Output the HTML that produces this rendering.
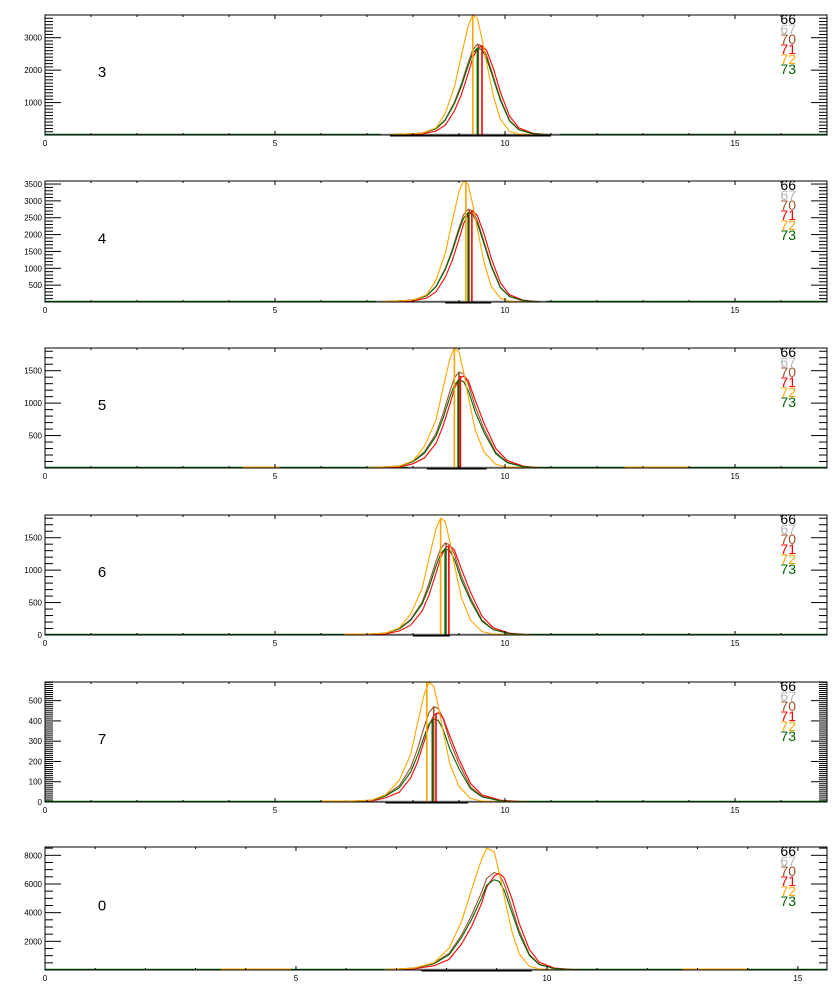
<!DOCTYPE html>
<html><head><meta charset="utf-8"><style>
body{margin:0;background:#fff}
svg{display:block}
text{font-family:"Liberation Sans",sans-serif}
</style></head><body>
<svg id="chart" width="840" height="1000" viewBox="0 0 840 1000" xmlns="http://www.w3.org/2000/svg"></svg>
<script>
// ---- data ----
const panelLabels = ["3","4","5","6","7","0"];
const legendLabels = ["66","67","70","71","72","73"];
const legendColors = ["#000000","#b4b4b4","#a0522d","#ff0000","#ffa500","#006400"];
const xMaxes = [17,17,17,17,17,15.58];
const yMaxes = [3700,3590,1850,1850,592,8580];
const yMajor = [1000,500,500,500,100,2000];
const yMinor = [100,100,100,100,10,500];
const yLabel0 = [false,false,false,true,true,false];

const xs1 = [7.5,8.2,8.5,8.7,8.9,9.05,9.2,9.3,9.4,9.5,9.6,9.75,9.9,10.1,10.3,10.6,11.0];
const xs2 = [7.3,8.0,8.3,8.5,8.7,8.85,9.0,9.1,9.2,9.3,9.4,9.55,9.7,9.9,10.1,10.4,10.8];
const xs3 = [7.0,7.7,8.0,8.25,8.5,8.65,8.8,8.9,9.0,9.1,9.2,9.35,9.55,9.8,10.05,10.4,10.8];
const xs4 = [6.7,7.4,7.7,7.95,8.2,8.35,8.5,8.6,8.7,8.8,8.9,9.05,9.25,9.5,9.75,10.1,10.6];
const xs5 = [6.3,7.1,7.4,7.7,7.95,8.1,8.25,8.35,8.45,8.55,8.65,8.8,9.0,9.25,9.5,9.9,10.5];
const xs6 = [6.75,7.35,7.75,8.05,8.3,8.5,8.7,8.8,8.95,9.05,9.15,9.3,9.45,9.65,9.85,10.15,10.65];

const orange1 = [7,55,220,670,1480,2440,3370,3700,3590,2960,2220,1180,480,110,30,7,0];
const brown1  = [6,56,196,476,1010,1570,2240,2630,2800,2740,2460,1790,1120,450,170,40,0];
const red1    = [3,33,124,300,740,1240,1900,2370,2670,2750,2610,2040,1320,580,220,55,0];
const green1  = [5,54,188,456,965,1500,2140,2520,2680,2630,2360,1720,1070,430,160,40,0];

const orange2 = [7,54,216,650,1440,2380,3280,3600,3490,2880,2160,1150,470,110,30,7,0];
const brown2  = [6,55,190,470,990,1540,2200,2590,2750,2700,2420,1760,1100,440,165,40,0];
const red2    = [3,32,120,300,730,1220,1860,2320,2620,2700,2560,2000,1300,570,215,54,0];
const green2  = [5,53,185,450,955,1480,2120,2490,2650,2600,2330,1700,1060,420,160,40,0];

const orange3 = [4,28,111,333,740,1220,1680,1850,1790,1480,1110,590,240,55,15,4,0];
const brown3  = [3,30,104,250,530,830,1180,1390,1480,1450,1300,950,590,240,90,22,0];
const red3    = [1,17,64,156,380,640,980,1220,1380,1420,1350,1050,680,300,114,28,0];
const green3  = [3,27,95,230,490,760,1090,1280,1360,1330,1200,870,540,220,82,20,0];

const orange4 = [4,27,108,324,720,1190,1640,1800,1750,1440,1080,580,230,54,14,4,0];
const brown4  = [3,28,100,240,510,800,1140,1330,1420,1390,1250,910,570,230,85,21,0];
const red4    = [1,17,62,152,370,620,950,1190,1340,1380,1310,1020,660,290,110,28,0];
const green4  = [3,27,93,226,480,740,1060,1250,1330,1300,1170,850,530,210,80,20,0];

const orange5 = [1,9,35,106,236,390,537,590,572,472,354,189,77,18,5,1,0];
const brown5  = [1,9,33,80,169,263,376,442,470,461,414,301,188,75,28,7,0];
const red5    = [0,5,20,48,119,198,304,378,427,440,418,326,211,92,35,9,0];
const green5  = [1,8,29,70,148,230,328,385,410,402,361,262,164,66,25,6,0];

const orange6 = [17,130,510,1530,3400,5610,7740,8500,8250,6800,5100,2720,1110,260,70,17,0];
const brown6  = [14,136,480,1160,2450,3810,5440,6390,6800,6660,5980,4350,2720,1090,410,100,0];
const red6    = [7,81,300,740,1820,3040,4660,5800,6550,6750,6410,5000,3240,1420,540,135,0];
const green6  = [13,126,440,1070,2270,3530,5040,5920,6300,6170,5540,4030,2520,1010,380,95,0];

// mean markers: [brown, red, orange, green]
const markers1 = [9.42,9.5,9.3,9.4];
const markers2 = [9.22,9.28,9.15,9.2];
const markers3 = [9.0,9.03,8.9,8.98];
const markers4 = [8.72,8.78,8.6,8.7];
const markers5 = [8.45,8.5,8.3,8.42];
const markers6 = [];
// baseline segments of series 66 (black) and 67 (gray)
const black66 = [[7.5,11.0],[8.7,9.7],[8.3,9.6],[8.0,8.8],[7.4,9.2],[7.5,9.7]];
const gray67 = [[7.3,11.2],[7.2,10.9],[7.9,10.1],[7.0,10.5],[6.9,9.8],[7.0,10.3]];
const orangeTails = [[],[],[[4.3,5.1],[12.6,14.0]],[[6.5,7.0]],[[6.0,6.5]],[[3.5,4.9],[12.7,14.0]]];

const xsAll = [xs1,xs2,xs3,xs4,xs5,xs6];
const orangeAll = [orange1,orange2,orange3,orange4,orange5,orange6];
const brownAll = [brown1,brown2,brown3,brown4,brown5,brown6];
const redAll = [red1,red2,red3,red4,red5,red6];
const greenAll = [green1,green2,green3,green4,green5,green6];
const markersAll = [markers1,markers2,markers3,markers4,markers5,markers6];

// ---- drawing ----
const svg = document.getElementById('chart');
const NS = "http://www.w3.org/2000/svg";
function mk(tag, attrs, parent){
  const e = document.createElementNS(NS, tag);
  for (const k in attrs) e.setAttribute(k, attrs[k]);
  (parent||svg).appendChild(e);
  return e;
}
const L = 45, R = 827;
const tops = [15,181,348,515,682,847];
const bots = [135,302,468,635,802,970];

for (let p=0;p<6;p++){
  const g = mk('g',{});
  
  
  const T=tops[p], B=bots[p], xm=xMaxes[p], ym=yMaxes[p];
  const sx = v => L + v/xm*(R-L);
  const sy = v => B - v/ym*(B-T);
  const xs = xsAll[p];
  const sers = [[brownAll[p],legendColors[2],'series-70'],[redAll[p],legendColors[3],'series-71'],[greenAll[p],legendColors[5],'series-73'],[orangeAll[p],legendColors[4],'series-72']];
  const gl = mk('line',{x1:L,y1:B-0.5,x2:R,y2:B-0.5,stroke:legendColors[5],'stroke-width':1.5},g);
  
  
  const gr = mk('line',{x1:sx(gray67[p][0]),y1:B-0.5,x2:sx(gray67[p][1]),y2:B-0.5,stroke:legendColors[1],'stroke-width':2},g);
  
  
  const bl = mk('line',{x1:sx(black66[p][0]),y1:B+0.5,x2:sx(black66[p][1]),y2:B+0.5,stroke:'#000','stroke-width':2},g);
  
  
  orangeTails[p].forEach(s=>{
    const o = mk('line',{x1:sx(s[0]),y1:B-0.5,x2:sx(s[1]),y2:B-0.5,stroke:legendColors[4],'stroke-width':2},g);
    
    
  });
  sers.forEach(s=>{
    const pts = xs.map((x,i)=>sx(x).toFixed(1)+','+sy(s[0][i]).toFixed(1)).join(' ');
    const pl = mk('polyline',{points:pts,fill:'none',stroke:s[1],'stroke-width':1.1},g);
    
    
  });
  const mcol=[legendColors[2],legendColors[3],legendColors[4],legendColors[5]];
  const mser=[brownAll[p],redAll[p],orangeAll[p],greenAll[p]];
  markersAll[p].forEach((mx,i)=>{
    const h = Math.max(...mser[i]);
    const ml = mk('line',{x1:sx(mx),y1:B,x2:sx(mx),y2:sy(h),stroke:mcol[i],'stroke-width':1.6},g);
    
    
  });
  const box = mk('rect',{x:L,y:T,width:R-L,height:B-T,fill:'none',stroke:'#000','stroke-width':1},g);
  
  
  for (let v=0; v<=xm+1e-6; v+=1){
    const major = v%5===0;
    const len = major?4:2;
    mk('line',{x1:sx(v),y1:B,x2:sx(v),y2:B-len,stroke:'#000','stroke-width':1},g);
    mk('line',{x1:sx(v),y1:T,x2:sx(v),y2:T+len,stroke:'#000','stroke-width':1},g);
    if (major){
      const t = mk('text',{x:sx(v),y:B+11,'font-size':8,'text-anchor':'middle'},g);
      t.textContent = v;
      
      
    }
  }
  for (let v=0; v<=ym+1e-6; v+=yMinor[p]){
    const major = Math.abs(v/yMajor[p]-Math.round(v/yMajor[p]))<1e-6;
    const len = major?16:8;
    const y = sy(v);
    mk('line',{x1:L,y1:y,x2:L+len,y2:y,stroke:'#000','stroke-width':1},g);
    mk('line',{x1:R,y1:y,x2:R-len,y2:y,stroke:'#000','stroke-width':1},g);
    if (major && (v>0 || yLabel0[p])){
      const t = mk('text',{x:L-3,y:y+3,'font-size':8,'text-anchor':'end'},g);
      t.textContent = Math.round(v);
      
      
    }
  }
  const pl = mk('text',{x:102,y:(T+B)/2+2,'font-size':15,'text-anchor':'middle'},g);
  pl.textContent = panelLabels[p];
  
  
  legendLabels.forEach((lab,i)=>{
    const t = mk('text',{x:796,y:T+9+i*10,'font-size':14,'text-anchor':'end',fill:legendColors[i]},g);
    t.textContent = lab;
    
    
  });
}
</script>
</body></html>
